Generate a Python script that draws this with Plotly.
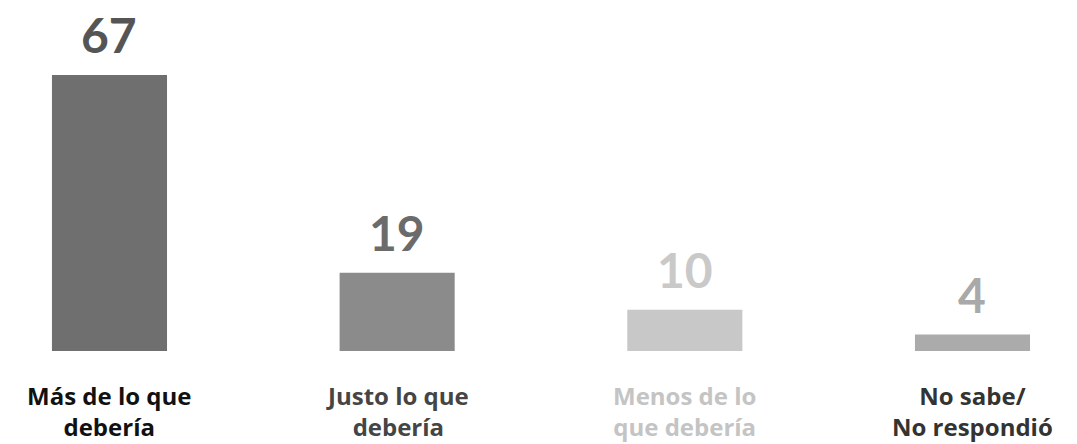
import plotly.graph_objects as go

categories = ["Más de lo que<br>debería", "Justo lo que<br>debería", "Menos de lo<br>que debería", "No sabe/<br>No respondió"]
values = [67, 19, 10, 4]
bar_colors = ["#6f6f6f", "#8b8b8b", "#c8c8c8", "#ababab"]
value_colors = ["#555555", "#6b6b6b", "#c9c9c9", "#a9a9a9"]
label_colors = ["#111111", "#454545", "#c4c4c4", "#333333"]

x = list(range(len(values)))

fig = go.Figure()
fig.add_trace(go.Bar(x=x, y=values, marker=dict(color=bar_colors, line=dict(width=0)),
                     width=0.4, hoverinfo="skip"))

annotations = []
for i, v in enumerate(values):
    annotations.append(dict(x=i, y=v, xref="x", yref="y", text="<b>%d</b>" % v,
                            showarrow=False, yanchor="middle", yshift=40,
                            font=dict(family="Lato", size=48, color=value_colors[i])))
    annotations.append(dict(x=i, y=0, xref="x", yref="y", text="<b>%s</b>" % categories[i],
                            showarrow=False, yanchor="middle", yshift=-60,
                            font=dict(family="Open Sans", size=24, color=label_colors[i])))

fig.update_layout(
    width=1077, height=444,
    margin=dict(l=0, r=0, t=0, b=93),
    paper_bgcolor="white", plot_bgcolor="white",
    showlegend=False,
    annotations=annotations,
    xaxis=dict(range=[-0.3806, 3.3633], showticklabels=False, showgrid=False,
               zeroline=False, showline=False, fixedrange=True),
    yaxis=dict(range=[0, 85.2], showticklabels=False, showgrid=False,
               zeroline=False, showline=False, fixedrange=True),
)

fig.write_html("out.html", config={"displayModeBar": False},
               post_script="document.body.style.margin='0px';document.body.style.overflow='hidden';")
